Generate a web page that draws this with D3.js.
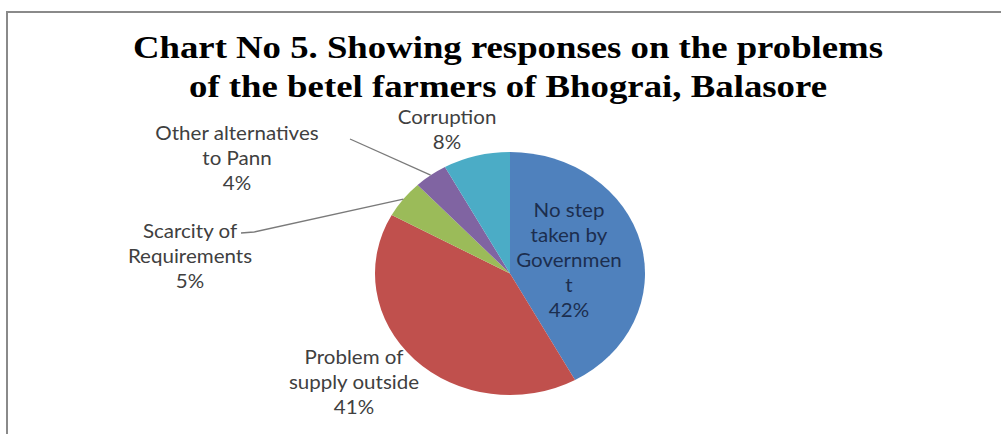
<!DOCTYPE html>
<html>
<head>
<meta charset="utf-8">
<script src="https://cdn.jsdelivr.net/npm/d3@7"></script>
<style>
  html, body { margin: 0; padding: 0; background: #fff; }
  svg { display: block; }
</style>
</head>
<body>
<svg id="chart" width="1001" height="434"></svg>
<script>
// data
const categories = [
  "No step taken by Government",
  "Problem of supply outside",
  "Scarcity of Requirements",
  "Other alternatives to Pann",
  "Corruption"
];
const values = [42, 41, 5, 4, 8];
const colors = ["#4F81BD", "#C0504D", "#9BBB59", "#8064A2", "#4BACC6"];
const titleLines = [
  "Chart No 5. Showing responses on the problems",
  "of the betel farmers of Bhograi, Balasore"
];
// label text as broken by excel
const labelLines = [
  ["No step", "taken by", "Governmen", "t"],
  ["Problem of", "supply outside"],
  ["Scarcity of", "Requirements"],
  ["Other alternatives", "to Pann"],
  ["Corruption"]
];

// layout (not data)
const cx = 510, cy = 273.5, rx = 135, ry = 121.5;
const sx = rx / ry; // the picture is stretched sideways
const labelPos = [
  { x: 569, y: 217, inside: true },
  { x: 354, y: 364 },
  { x: 190, y: 238 },
  { x: 237, y: 140 },
  { x: 447, y: 124 }
];
const lineH = 25;
const titleW = [750, 638];

const svg = d3.select("#chart");

// frame
svg.append("path")
  .attr("d", "M7,434 L7,12 L1001,12")
  .attr("fill", "none")
  .attr("stroke", "#8a8a8a")
  .attr("stroke-width", 2);

// title
svg.append("g").selectAll("text")
  .data(titleLines).enter()
  .append("text")
  .attr("x", (d, i) => 508 - titleW[i] / 2)
  .attr("y", (d, i) => 58 + i * 39)
  .attr("textLength", (d, i) => titleW[i])
  .attr("lengthAdjust", "spacingAndGlyphs")
  .attr("font-family", "'Liberation Serif', 'Times New Roman', serif")
  .attr("font-weight", "bold")
  .attr("font-size", 32)
  .attr("fill", "#000")
  .text(d => d);

// pie
const pie = d3.pie().sort(null).value(d => d)(values);
const arc = d3.arc().innerRadius(0).outerRadius(rx);

const pieG = svg.append("g")
  .attr("transform", `translate(${cx},${cy}) scale(1,${ry / rx})`);

pieG.selectAll("path")
  .data(pie).enter()
  .append("path")
  .attr("d", arc)
  .attr("fill", (d, i) => colors[i]);

// point on the ellipse edge at a given angle
function edge(a, k) {
  return [cx + rx * k * Math.sin(a), cy - ry * k * Math.cos(a)];
}

// leader lines for the two thin slices
const leaders = [
  { i: 3, from: [350, 139], via: null },
  { i: 2, from: [241, 233], via: [254, 232] }
];
svg.selectAll(".leader")
  .data(leaders).enter()
  .append("polyline")
  .attr("class", "leader")
  .attr("fill", "none")
  .attr("stroke", "#7a7a7a")
  .attr("stroke-width", 1.3)
  .attr("points", d => {
    const p = pie[d.i];
    const end = edge((p.startAngle + p.endAngle) / 2, 1.0);
    const pts = [d.from];
    if (d.via) pts.push(d.via);
    pts.push(end);
    return pts.map(q => q.join(",")).join(" ");
  });

// labels
pie.forEach((p, i) => {
  const pos = labelPos[i];
  const lines = labelLines[i].concat([values[i] + "%"]);
  const t = svg.append("text")
    .attr("transform", `translate(${pos.x},0) scale(${sx},1)`)
    .attr("text-anchor", "middle")
    .attr("font-family", "Lato, 'Open Sans', sans-serif")
    .attr("font-size", 18.5)
    .attr("fill", pos.inside ? "#1c2e4f" : "#404040");
  lines.forEach((ln, j) => {
    t.append("tspan")
      .attr("x", 0)
      .attr("y", pos.y + j * lineH)
      .text(ln);
  });
});
</script>
</body>
</html>
